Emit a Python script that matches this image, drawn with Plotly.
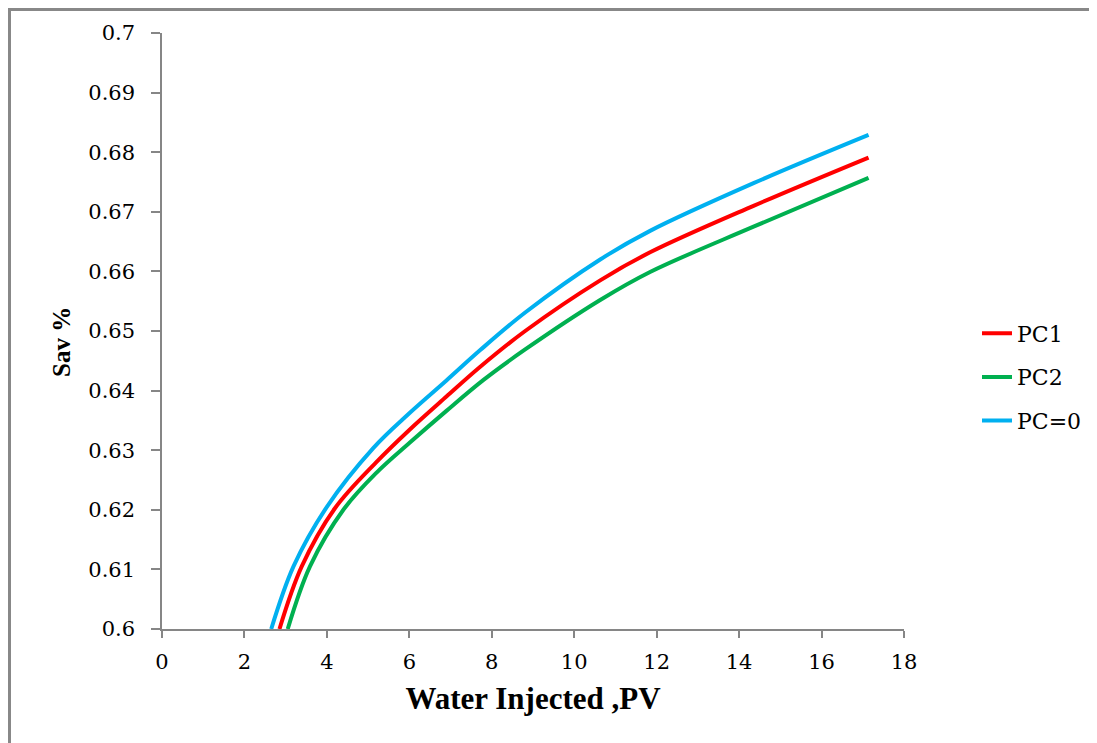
import plotly.graph_objects as go

# PC1 (red)
pc1_x = [2.85, 3.39, 4.20, 5.20, 6.00, 6.90, 7.72, 8.81, 10.63, 11.84, 14.35, 17.14]
pc1_y = [0.600, 0.6105, 0.6203, 0.6280, 0.6334, 0.6390, 0.6440, 0.6500, 0.6585, 0.6632, 0.6710, 0.6791]

# PC2 (green)
pc2_x = [3.05, 3.59, 4.40, 5.20, 6.00, 6.90, 7.80, 8.81, 10.63, 11.84, 14.35, 17.14]
pc2_y = [0.600, 0.6105, 0.6200, 0.6262, 0.6312, 0.6366, 0.6418, 0.6469, 0.6552, 0.6599, 0.6675, 0.6757]

# PC=0 (blue)
pc0_x = [2.65, 3.19, 4.00, 5.13, 6.00, 6.90, 7.72, 8.81, 10.63, 11.84, 14.35, 17.14]
pc0_y = [0.600, 0.6105, 0.6205, 0.6304, 0.6362, 0.6417, 0.6468, 0.6531, 0.6620, 0.6668, 0.6748, 0.6829]

series = [
    ("PC1", pc1_x, pc1_y, "#FF0000"),
    ("PC2", pc2_x, pc2_y, "#00B050"),
    ("PC=0", pc0_x, pc0_y, "#00B0F0"),
]

x_ticks = [0, 2, 4, 6, 8, 10, 12, 14, 16, 18]
y_ticks = [0.6, 0.61, 0.62, 0.63, 0.64, 0.65, 0.66, 0.67, 0.68, 0.69, 0.7]
y_tick_text = ["0.6", "0.61", "0.62", "0.63", "0.64", "0.65", "0.66", "0.67", "0.68", "0.69", "0.7"]

fig = go.Figure()
for name, xs, ys, col in series:
    fig.add_trace(go.Scatter(
        x=xs, y=ys, mode="lines", name=name, legendgroup=name,
        line=dict(color=col, width=4, shape="spline", smoothing=1.0),
    ))

# page is offset by the 8px body margin
OFF = 8
W, H = 1097 - OFF, 743 - OFF
L, T = 162 - OFF, 33 - OFF
R = W - (904 - OFF)
B = H - (629 - OFF)
pw, ph = W - L - R, H - T - B


def px2x(px):
    return (px - OFF - L) / pw


def py2y(py):
    return ((629 - OFF) - (py - OFF)) / ph


fig.update_layout(
    width=W, height=H,
    margin=dict(l=L, r=R, t=T, b=B, autoexpand=False),
    paper_bgcolor="white", plot_bgcolor="white",
    font=dict(family="DejaVu Serif", color="#000000"),
    showlegend=True,
    legend=dict(
        x=px2x(977), xanchor="left",
        y=py2y(377), yanchor="middle",
        font=dict(family="DejaVu Serif", size=22, color="#000000"),
        tracegroupgap=12, bgcolor="rgba(0,0,0,0)",
    ),
    xaxis=dict(
        range=[0, 18], tickvals=x_ticks, ticktext=[str(v) for v in x_ticks],
        showgrid=False, zeroline=False, showline=True, linecolor="#868686", linewidth=1.5,
        ticks="outside", ticklen=7, tickcolor="#868686", tickwidth=1.5,
        tickfont=dict(family="DejaVu Serif", size=21),
        ticklabelstandoff=6,
        title=dict(text="<b>Water Injected ,PV</b>", font=dict(family="Liberation Serif", size=31), standoff=14),
    ),
    yaxis=dict(
        range=[0.6, 0.7], tickvals=y_ticks, ticktext=y_tick_text,
        showgrid=False, zeroline=False, showline=True, linecolor="#868686", linewidth=1.5,
        ticks="outside", ticklen=9, tickcolor="#868686", tickwidth=1.5,
        tickfont=dict(family="DejaVu Serif", size=21),
        ticklabelstandoff=12,
    ),
    annotations=[dict(
        text="<b>Sav %</b>", xref="paper", yref="paper",
        x=px2x(61), y=py2y(342), xanchor="center", yanchor="middle",
        textangle=-90, showarrow=False,
        font=dict(family="Liberation Serif", size=25, color="#000000"),
    )],
)

# outer chart-area border
fig.add_shape(
    type="rect", xref="paper", yref="paper",
    x0=px2x(9.5), x1=px2x(1130),
    y0=py2y(770), y1=py2y(9.5),
    line=dict(color="#888888", width=3), fillcolor="rgba(0,0,0,0)", layer="below",
)

fig.write_html("out.html")
